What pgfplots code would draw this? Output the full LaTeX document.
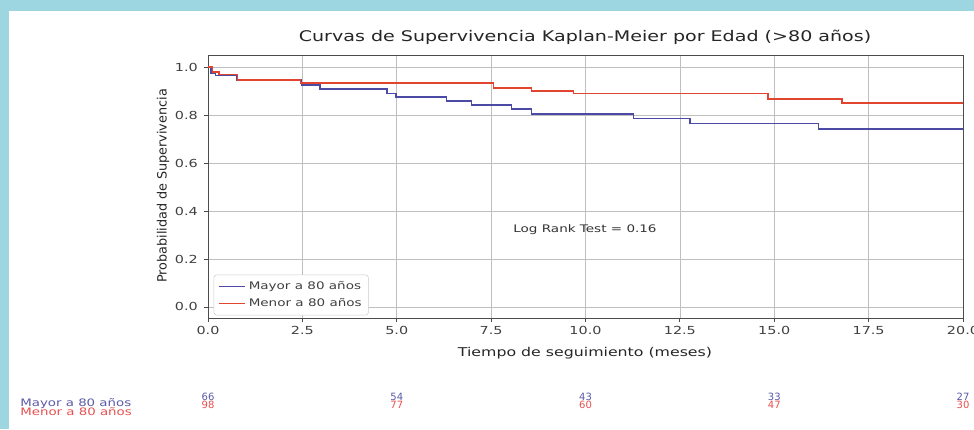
\documentclass[border=0pt]{standalone}
\usepackage{pgfplots}
\pgfplotsset{compat=1.18}
\usepackage{fontspec}
\setmainfont{DejaVu Sans}
\definecolor{framecol}{HTML}{9DD6E0}
\definecolor{kmblue}{HTML}{4B4BA5}
\definecolor{kmred}{HTML}{E2452F}
\definecolor{riskblue}{HTML}{5A5AA8}
\definecolor{riskred}{HTML}{E85050}
\begin{document}
\begin{tikzpicture}
\begin{scope}[x=0.75pt,y=-0.75pt]
\fill[framecol] (0,0) rectangle (974,429);
\fill[white] (9,11) rectangle (974,429);
\end{scope}
\begin{axis}[
  at={(156pt,-238.5pt)}, anchor=south west,
  scale only axis, width=566.25pt, height=197.25pt,
  xmin=0, xmax=20, ymin=-0.046, ymax=1.05,
  xtick={0,2.5,5,7.5,10,12.5,15,17.5,20},
  xticklabels={0.0,2.5,5.0,7.5,10.0,12.5,15.0,17.5,20.0},
  ytick={0,0.2,0.4,0.6,0.8,1.0},
  yticklabels={0.0,0.2,0.4,0.6,0.8,1.0},
  tick label style={font=\fontsize{8.3}{9}\selectfont, text=black!75, xscale=1.3},
  tick align=outside, major tick length=3pt,
  xtick pos=bottom, ytick pos=left,
  tick style={black!70, line width=0.6pt},
  grid=major, grid style={gray!50, line width=0.5pt},
  axis line style={black!70, line width=0.7pt},
  clip=false, no markers,
  legend style={at={(axis cs:0.15,-0.035)}, anchor=south west,
    draw=gray!40, rounded corners=2pt, fill=white,
    font=\fontsize{7.8}{10}\selectfont, text=black!75,
    row sep=1pt, inner sep=3pt},
  legend cell align=left,
  legend image code/.code={\draw[#1, line width=1.2pt] (0cm,0cm) -- (0.7cm,0cm);},
]
\addplot[const plot, draw=kmblue, line width=1.3pt] coordinates {
 (0,1.0) (0.08,0.975) (0.2,0.965) (0.76,0.946) (2.48,0.925) (2.97,0.907)
 (4.75,0.89) (4.98,0.874) (6.32,0.858) (6.98,0.842) (8.04,0.824) (8.57,0.804)
 (11.27,0.785) (12.77,0.765) (16.17,0.742) (20,0.742)};
\addlegendentry{\scalebox{1.3}[1]{Mayor a 80 años}}
\addplot[const plot, draw=kmred, line width=1.3pt] coordinates {
 (0,1.0) (0.12,0.98) (0.3,0.969) (0.78,0.946) (2.45,0.932) (7.56,0.914)
 (8.57,0.90) (9.68,0.89) (14.84,0.867) (16.79,0.849) (20,0.849)};
\addlegendentry{\scalebox{1.3}[1]{Menor a 80 años}}
\end{axis}
\begin{scope}[x=0.75pt,y=-0.75pt]
\node[font=\fontsize{11}{13}\selectfont, text=black!85, xscale=1.3] at (585,37) {Curvas de Supervivencia Kaplan-Meier por Edad (>80 años)};
\node[font=\fontsize{9.1}{11}\selectfont, text=black!85, xscale=1.3] at (585,353) {Tiempo de seguimiento (meses)};
\node[font=\fontsize{9.6}{11}\selectfont, text=black!85, rotate=90] at (163,186) {Probabilidad de Supervivencia};
\node[font=\fontsize{7.8}{9}\selectfont, text=black!80, xscale=1.3] at (585,230) {Log Rank Test = 0.16};
\node[font=\fontsize{7.7}{8}\selectfont, text=riskblue, anchor=west, inner sep=0pt, xscale=1.3] at (20,404) {Mayor a 80 años};
\node[font=\fontsize{7.7}{8}\selectfont, text=riskred, anchor=west, inner sep=0pt, xscale=1.3] at (20,412) {Menor a 80 años};
\foreach \px/\b/\r in {208/66/98, 396.75/54/77, 585.5/43/60, 774.25/33/47, 963/27/30} {
  \node[font=\fontsize{7.5}{8}\selectfont, text=riskblue] at (\px,397) {\b};
  \node[font=\fontsize{7.5}{8}\selectfont, text=riskred] at (\px,405) {\r};
}
\end{scope}
\pgfresetboundingbox
\useasboundingbox (0pt,0pt) rectangle (730.5pt,-321.75pt);
\end{tikzpicture}
\end{document}
